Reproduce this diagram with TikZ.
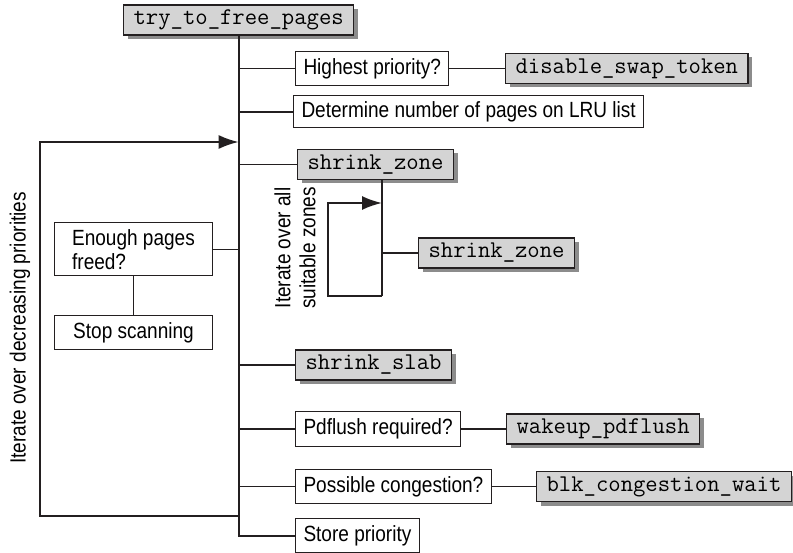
\documentclass[tikz,border=0pt]{standalone}
\usepackage{fontspec}
\setmainfont{Liberation Sans}[FakeStretch=0.865]
\usetikzlibrary{positioning, arrows.meta, shadows}
\definecolor{ink}{HTML}{231F20}
\definecolor{fnfill}{HTML}{D4D4D4}
\definecolor{fnshade}{HTML}{8C8C8C}
\tikzset{
  fn/.style       = {rectangle, draw=ink, line width=1.2pt, fill=fnfill,
                     font=\ttfamily\fontsize{24}{26}\selectfont,
                     minimum height=30pt, inner xsep=10pt, inner ysep=0pt, anchor=west,
                     drop shadow={shadow xshift=4pt, shadow yshift=-4pt,
                                  fill=fnshade, opacity=1}},
  stepbox/.style  = {rectangle, draw=ink, line width=1pt, fill=white,
                     font=\fontsize{22}{23.5}\selectfont,
                     minimum height=34pt, inner xsep=8pt, inner ysep=0pt, anchor=west},
  sidetext/.style = {font=\fontsize{22}{25}\selectfont, rotate=90, align=center,
                     inner sep=0pt},
  link/.style     = {draw=ink, line width=1.6pt},
  spine/.style    = {draw=ink, line width=2pt},
  iterarr/.style  = {draw=ink, line width=2pt, -{Latex[length=20pt,width=14pt]}},
}

\begin{document}
\begin{tikzpicture}[x=1pt, y=-1pt]
  \useasboundingbox (0,0) rectangle (793,553);

  \node[fn] (free) at (123,20) {try\_to\_free\_pages};

  \node[stepbox] (prio) at (295,68.5) {Highest priority?};
  \node[fn] (swap) at (505,68.5) {disable\_swap\_token};
  \node[stepbox, minimum height=32pt] (lru) at (293,112) {Determine number of pages on LRU list};
  \node[fn] (zone) at (297,164.5) {shrink\_zone};
  \node[fn] (zonein) at (418,253) {shrink\_zone};

  \node[stepbox, align=left, minimum width=158pt, minimum height=53pt]
       (enough) at (54,249.5) {Enough pages\\freed?};
  \node[stepbox, minimum width=158pt, below=39pt of enough]
       (stop) {Stop scanning};

  \node[fn] (slab) at (295,365) {shrink\_slab};
  \node[stepbox] (flush) at (295,429) {Pdflush required?};
  \node[fn] (wake) at (506,429) {wakeup\_pdflush};
  \node[stepbox] (cong) at (295,486.5) {Possible congestion?};
  \node[fn] (blk) at (536,486.5) {blk\_congestion\_wait};
  \node[stepbox] (store) at (295,535.5) {Store priority};

  \node[sidetext] (iterprio) at (20,328) {Iterate over decreasing priorities};
  \node[sidetext] (iterzone) at (295,248) {Iterate over all\\suitable zones};

  % main call chain
  \draw[spine] (free.south) |- (store.west);
  \foreach \n in {prio, lru, zone, slab, flush, cong}
    \draw[link] (free.south |- \n.west) -- (\n.west);
  \draw[link] (enough.east) -- (free.south |- enough.east);
  \draw[link] (enough) -- (stop);
  \draw[link] (prio.east) -- (prio.east -| swap.west);
  \draw[link] (flush.east) -- (flush.east -| wake.west);
  \draw[link] (cong.east) -- (cong.east -| blk.west);

  % zones
  \coordinate (zonex) at (382,296);
  \coordinate (zoneloop) at (328,203);
  \draw[spine] (zone.south -| zonex) -- (zonex);
  \draw[link] (zonex |- zonein.west) -- (zonein.west);
  \draw[iterarr] (zonex) -| (zoneloop) -- (zoneloop -| zonex);

  % priorities
  \coordinate (outlo) at (40,516);
  \coordinate (outhi) at (40,142);
  \draw[iterarr] (free.south |- outlo) -- (outlo) -- (outhi) -- (free.south |- outhi);

\end{tikzpicture}
\end{document}
